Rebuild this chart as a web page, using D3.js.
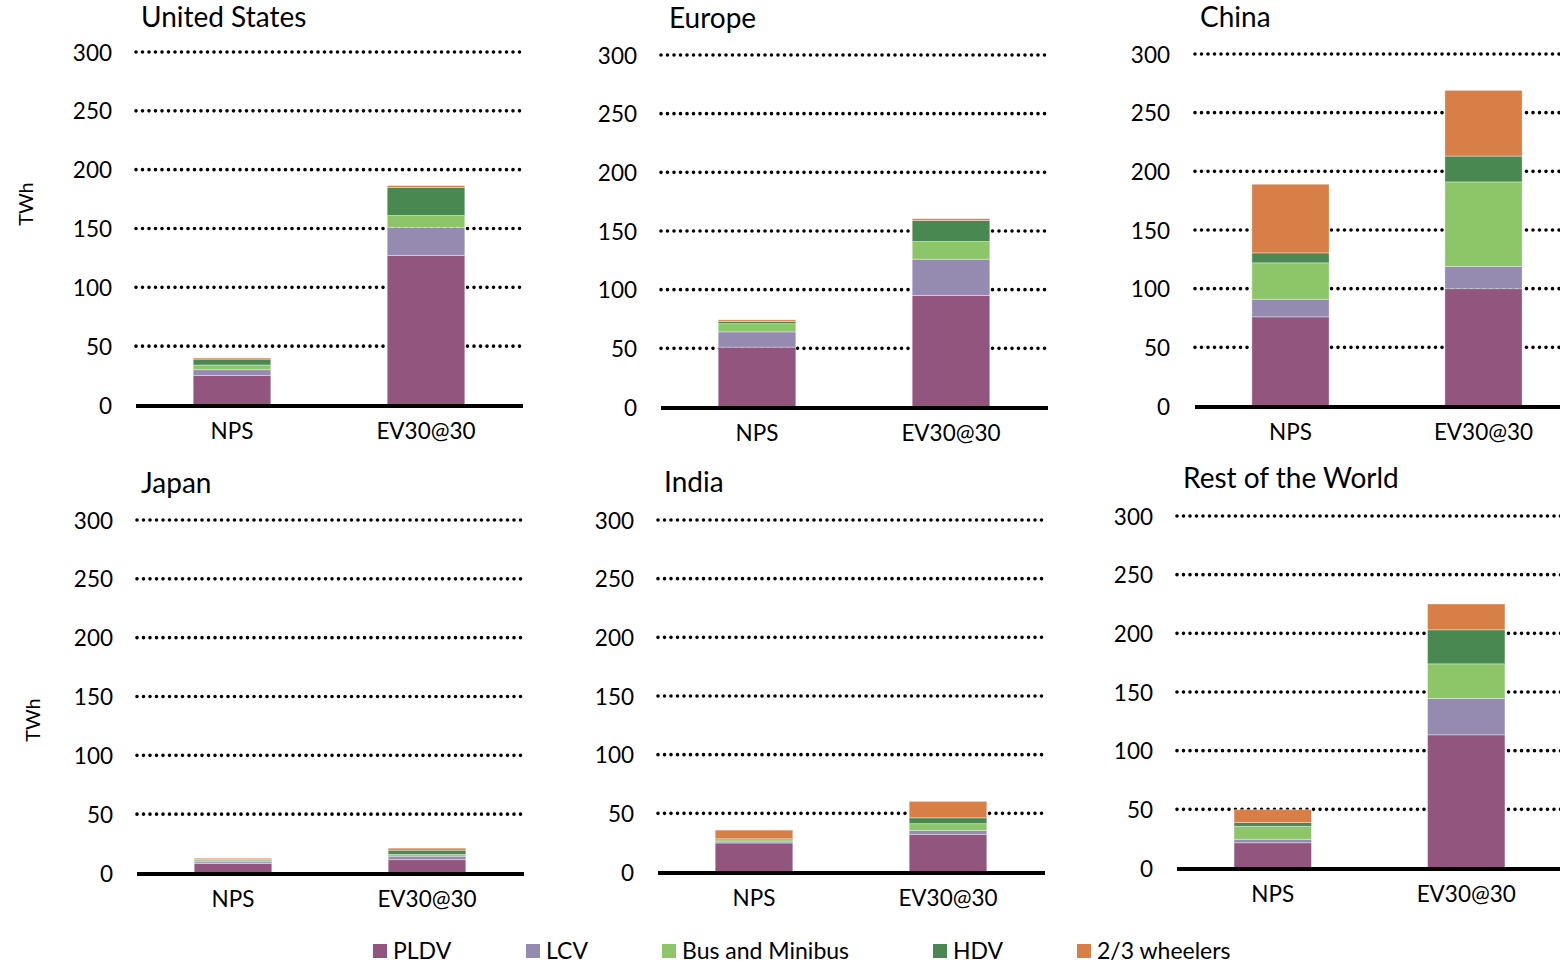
<!DOCTYPE html>
<html>
<head>
<meta charset="utf-8">
<script src="https://cdn.jsdelivr.net/npm/d3@7"></script>
<style>
  html, body { margin: 0; padding: 0; background: #fff; }
  svg { display: block; font-family: Lato, "Open Sans", sans-serif; }
</style>
</head>
<body>
<svg id="chart" width="1560" height="964"></svg>
<script>
// ---- data ----
const regions = ["United States", "Europe", "China", "Japan", "India", "Rest of the World"];
const categories = ["NPS", "EV30@30"];
const seriesNames = ["PLDV", "LCV", "Bus and Minibus", "HDV", "2/3 wheelers"];
const yTicks = [0, 50, 100, 150, 200, 250, 300];
// values per region: [NPS, EV30@30] in TWh
const pldv  = [[25, 127], [51, 95], [76, 100], [8, 11.3], [24.7, 32.1], [21.5, 113.5]];
const lcv   = [[5, 24],   [13, 31], [15, 19],  [1.5, 3],  [1, 3.4],     [3, 31]];
const bus   = [[4, 10],   [7, 15],  [31, 72],  [1, 1.5],  [1.7, 5.7],   [11, 29.5]];
const hdv   = [[5, 24],   [2, 18],  [8.5, 22], [1, 3.6],  [0.9, 5],     [3.2, 29]];
const two3  = [[1, 1.5],  [1.3, 1.5], [58.5, 56], [1, 1.7], [7.4, 14],  [11, 22]];
const seriesValues = [pldv, lcv, bus, hdv, two3];
const colors = ["#91557E", "#958BB1", "#8CC668", "#4A8852", "#D87F47"];

// ---- layout ----
const panels = [
  {left: 135, right: 523, y0: 405, y300: 52, titleX: 141, titleY: 27, labY: 439, tickX: 112},
  {left: 660, right: 1048, y0: 407, y300: 55, titleX: 669, titleY: 28, labY: 441, tickX: 637},
  {left: 1194, right: 1580, y0: 406, y300: 54, titleX: 1200, titleY: 27, labY: 440, tickX: 1170},
  {left: 136, right: 524, y0: 873, y300: 520, titleX: 141, titleY: 493, labY: 907, tickX: 113},
  {left: 657, right: 1045, y0: 872, y300: 520, titleX: 664, titleY: 492, labY: 906, tickX: 634},
  {left: 1176, right: 1563, y0: 868, y300: 516, titleX: 1183, titleY: 488, labY: 902, tickX: 1153}
];

const svg = d3.select("#chart");

panels.forEach((p, ri) => {
  const g = svg.append("g");
  const y = d3.scaleLinear().domain([0, 300]).range([p.y0, p.y300]);
  const x = d3.scaleBand().domain(categories).range([p.left, p.right])
    .paddingInner(0.6).paddingOuter(0.3);

  // gridlines (dotted)
  g.selectAll("line.grid").data(yTicks.filter(t => t > 0)).join("line")
    .attr("class", "grid")
    .attr("x1", p.left + 1).attr("x2", p.right)
    .attr("y1", d => y(d)).attr("y2", d => y(d))
    .attr("stroke", "#000").attr("stroke-width", 3.6)
    .attr("stroke-linecap", "round").attr("stroke-dasharray", "0 6.5");

  // tick labels
  g.selectAll("text.tick").data(yTicks).join("text")
    .attr("class", "tick")
    .attr("x", p.tickX).attr("y", d => y(d))
    .attr("text-anchor", "end").attr("dominant-baseline", "central")
    .attr("font-size", 22.5).attr("fill", "#000")
    .text(d => d);

  // stacked bars
  const rows = categories.map((c, ci) => {
    const o = {cat: c};
    seriesNames.forEach((s, si) => { o[s] = seriesValues[si][ri][ci]; });
    return o;
  });
  const stacked = d3.stack().keys(seriesNames)(rows);
  stacked.forEach((layer, si) => {
    g.selectAll(null).data(layer).join("rect")
      .attr("x", d => x(d.data.cat))
      .attr("width", x.bandwidth())
      .attr("y", d => y(d[1]))
      .attr("height", d => y(d[0]) - y(d[1]))
      .attr("fill", colors[si])
      .attr("stroke", "rgba(255,255,255,0.45)").attr("stroke-width", 0.8);
  });

  // baseline
  g.append("line")
    .attr("x1", p.left + 1).attr("x2", p.right)
    .attr("y1", p.y0 + 1).attr("y2", p.y0 + 1)
    .attr("stroke", "#000").attr("stroke-width", 4);

  // category labels
  g.selectAll("text.cat").data(categories).join("text")
    .attr("class", "cat")
    .attr("x", d => x(d) + x.bandwidth() / 2).attr("y", p.labY)
    .attr("text-anchor", "middle").attr("font-size", 22.5).attr("fill", "#000")
    .text(d => d);

  // title
  g.append("text")
    .attr("x", p.titleX).attr("y", p.titleY)
    .attr("font-size", 28).attr("fill", "#000")
    .text(regions[ri]);
});

// y axis titles
[[33, 204], [40, 720]].forEach(([tx, ty]) => {
  svg.append("text")
    .attr("transform", `translate(${tx},${ty}) rotate(-90)`)
    .attr("text-anchor", "middle").attr("font-size", 20).attr("fill", "#000")
    .text("TWh");
});

// legend
const legendX = [373, 526, 662, 933, 1077];
const lg = svg.append("g");
seriesNames.forEach((s, i) => {
  lg.append("rect").attr("x", legendX[i]).attr("y", 944).attr("width", 14).attr("height", 14)
    .attr("fill", colors[i]);
  lg.append("text").attr("x", legendX[i] + 20).attr("y", 959)
    .attr("font-size", 23).attr("fill", "#000").text(s);
});
</script>
</body>
</html>
